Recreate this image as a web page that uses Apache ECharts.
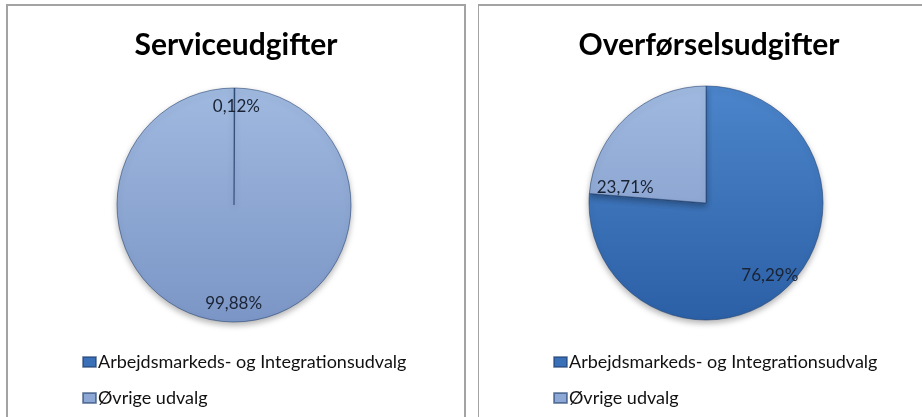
<!DOCTYPE html>
<html>
<head>
<meta charset="utf-8">
<script src="https://cdn.jsdelivr.net/npm/echarts@6/dist/echarts.min.js"></script>
<style>
  html, body { margin: 0; padding: 0; background: #fff; overflow: hidden; width: 922px; height: 417px; }
  #left { position: absolute; left: 6px; top: 4px; width: 456px; height: 430px; border: 2px solid #a3a3a3; }
  #right { position: absolute; left: 478px; top: 4px; width: 460px; height: 430px; border-top: 2px solid #a3a3a3; border-left: 1px solid #a3a3a3; }
</style>
</head>
<body>
<div id="left"></div>
<div id="right"></div>
<script>
 // data
 var categories = ['Arbejdsmarkeds- og Integrationsudvalg', 'Øvrige udvalg'];
 var titles = ['Serviceudgifter', 'Overførselsudgifter'];
 var serviceValues = [0.12, 99.88];
 var overfoerselValues = [76.29, 23.71];

 var R = 117;

 function grad(cy, top, bottom) {
     return new echarts.graphic.LinearGradient(0, cy - R, 0, cy + R, [
         { offset: 0, color: top },
         { offset: 1, color: bottom }
     ], true);
 }

 function fmt(p) {
     return p.value.toFixed(2).replace('.', ',') + '%';
 }

 function makeOption(title, values, cx, cy, labelShift) {
     var colors = [grad(cy, '#4c85cb', '#2c60a6'), grad(cy, '#a0b9e0', '#7b96c6')];
     var data = categories.map(function (name, i) {
         return { name: name, value: values[i], itemStyle: { color: colors[i] } };
     });
     var labelData = categories.map(function (name, i) {
         return { name: name, value: values[i] };
     });
     return {
         animation: false,
         title: {
             text: title,
             left: 'center',
             top: 19,
             textStyle: { fontFamily: 'Lato', fontWeight: 'bold', fontSize: 30, color: '#000' }
         },
         legend: {
             orient: 'vertical',
             left: 69,
             top: 342,
             itemWidth: 13,
             itemHeight: 10,
             itemGap: 18,
             icon: 'rect',
             data: [
                 { name: categories[0], itemStyle: { color: '#3a70b8' } },
                 { name: categories[1], itemStyle: { color: '#8ea8d6' } }
             ],
             textStyle: { fontFamily: 'Lato', fontSize: 18, color: '#111', padding: [0, 0, 0, -3] }
         },
         series: [{
             type: 'pie',
             center: [cx, cy],
             radius: [0, R],
             startAngle: 90,
             silent: true,
             label: { show: false },
             labelLine: { show: false },
             itemStyle: {
                 borderColor: 'rgba(30,60,110,0.55)',
                 borderWidth: 1,
                 shadowBlur: 6,
                 shadowOffsetY: 3,
                 shadowColor: 'rgba(0,0,0,0.3)'
             },
             data: data
         }, {
             // label carrier: same slices, transparent, labels at ~0.85 R
             type: 'pie',
             center: [cx, cy],
             radius: [0, 200],
             startAngle: 90,
             silent: true,
             itemStyle: { color: 'rgba(0,0,0,0)' },
             label: {
                 show: true,
                 position: 'inside',
                 formatter: fmt,
                 fontFamily: 'Lato',
                 fontSize: 17,
                 color: '#1a2333'
             },
             labelLayout: function (params) {
                 return labelShift[params.dataIndex] || {};
             },
             data: labelData
         }]
     };
 }

 var leftChart = echarts.init(document.getElementById('left'));
 leftChart.setOption(makeOption(titles[0], serviceValues, 226, 199, [{ dx: 2, dy: 5 }, { dy: -4 }]));

 var rightChart = echarts.init(document.getElementById('right'));
 rightChart.setOption(makeOption(titles[1], overfoerselValues, 227, 197, [{ dx: -6, dy: -3 }, { dx: -11, dy: 60 }]));
</script>
</body>
</html>
